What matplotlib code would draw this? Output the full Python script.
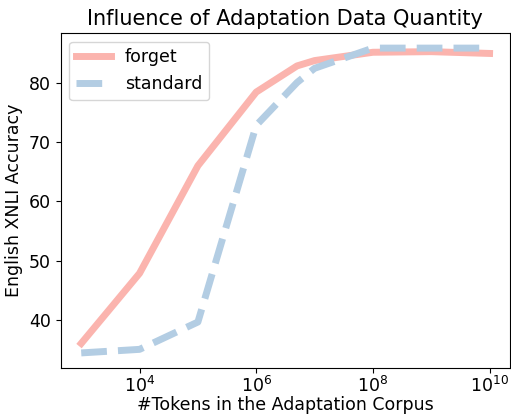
import matplotlib
matplotlib.use("Agg")
import matplotlib.pyplot as plt

# corpus sizes (tokens) and English XNLI accuracy
tokens = [1e3, 1e4, 1e5, 1e6, 5e6, 1e7, 1e8, 1e9, 1e10]
forget_acc = [36.1, 47.9, 66.0, 78.4, 82.8, 83.7, 85.1, 85.2, 84.9]
standard_acc = [34.5, 35.1, 39.7, 72.8, 80.0, 82.4, 85.8, 85.8, 85.8]

plt.rcParams['font.size'] = 12.5

fig = plt.figure(figsize=(5.11, 4.16), dpi=100)
ax = fig.add_axes([0.119, 0.115, 0.879, 0.806])

ax.plot(tokens, forget_acc, color='#fbb4ae', lw=5, label='forget')
ax.plot(tokens, standard_acc, color='#b3cde3', lw=5, ls='--', label='standard')
ax.set_xscale('log')
ax.set_xticks([1e4, 1e6, 1e8, 1e10])
ax.minorticks_off()
ax.tick_params(labelsize=12.5)
ax.tick_params(axis='x', pad=2)

ax.set_title('Influence of Adaptation Data Quantity', fontsize=15)
ax.set_xlabel('#Tokens in the Adaptation Corpus', labelpad=0)
ax.set_ylabel('English XNLI Accuracy')
ax.legend(loc='upper left')

fig.savefig('out.png', dpi=100)
